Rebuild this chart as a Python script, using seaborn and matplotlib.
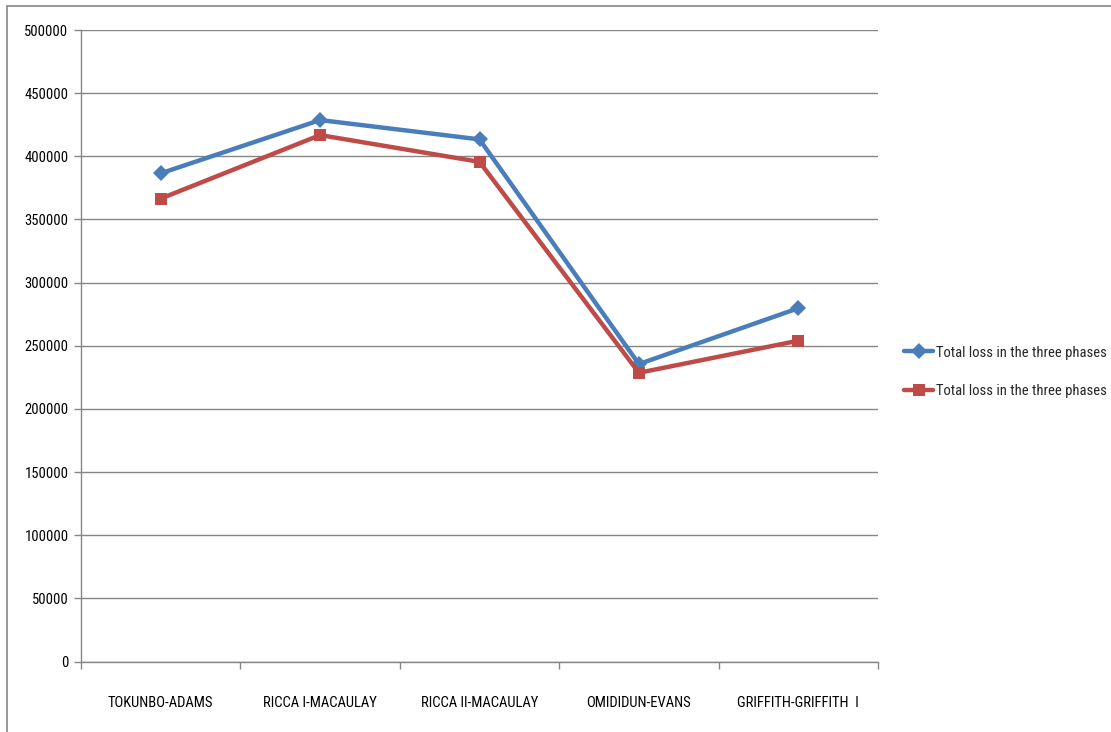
import matplotlib
matplotlib.use("Agg")
import matplotlib.pyplot as plt
import matplotlib.patches as mpatches
from matplotlib.ticker import FixedLocator, NullFormatter
import seaborn as sns
import pandas as pd
from matplotlib import font_manager

categories = ["TOKUNBO-ADAMS", "RICCA I-MACAULAY", "RICCA II-MACAULAY", "OMIDIDUN-EVANS", "GRIFFITH-GRIFFITH  I"]
series1_values = [386500, 428700, 413400, 235500, 279700]
series2_values = [366500, 416800, 395600, 228600, 254000]
series_labels = ["Total loss in the three phases", "Total loss in the three phases"]
y_ticks = [0, 50000, 100000, 150000, 200000, 250000, 300000, 350000, 400000, 450000, 500000]

sns.set_theme(style="white")
entries = font_manager.fontManager.ttflist
names = {f.name for f in entries}
stretch = "normal"
fsize = 10.5
fam = None
for cand in ["Liberation Sans Narrow", "Roboto Condensed", "Open Sans Condensed", "Noto Sans Condensed"]:
    if cand in names:
        fam = cand
        break
if fam is None:
    cond = [f for f in entries if f.name in ("DejaVu Sans", "Noto Sans", "Open Sans", "Roboto")
            and str(f.stretch) in ("condensed", "semi-condensed", "500", "375", "extra-condensed")
            and f.style == "normal"]
    if cond:
        fam = cond[0].name
        stretch = "condensed"
        fsize = 10.5
    else:
        fam = "Liberation Sans"
        fsize = 9.5
plt.rcParams['font.family'] = [fam, 'DejaVu Sans']
plt.rcParams['font.stretch'] = stretch

fig = plt.figure(figsize=(11.11, 7.32), dpi=100)
ax = fig.add_axes([81/1111, 1 - 661.5/732, (878-81)/1111, (661.5-30)/732])

df1 = pd.DataFrame({"cat": categories, "val": series1_values})
df2 = pd.DataFrame({"cat": categories, "val": series2_values})

sns.lineplot(data=df1, x="cat", y="val", ax=ax, color="#4A7EBB", lw=3.2,
             marker="D", markersize=8.5, markeredgewidth=0, label=series_labels[0], sort=False)
sns.lineplot(data=df2, x="cat", y="val", ax=ax, color="#BE4B48", lw=3.2,
             marker="s", markersize=9, markeredgewidth=0, label=series_labels[1], sort=False)

gray = "#868686"
ax.set_ylim(0, 500000)
ax.set_xlim(-0.5, len(categories) - 0.5)
ax.set_yticks(y_ticks)
ax.set_yticklabels([str(v) for v in y_ticks])
ax.yaxis.grid(True, color=gray, lw=1)
ax.xaxis.grid(False)
ax.set_axisbelow(True)
for s in ["top", "right"]:
    ax.spines[s].set_visible(False)
for s in ["left", "bottom"]:
    ax.spines[s].set_color(gray)
    ax.spines[s].set_linewidth(1)

ax.set_xticks(range(len(categories)))
ax.set_xticklabels(categories)
ax.xaxis.set_minor_locator(FixedLocator([i - 0.5 for i in range(len(categories) + 1)]))
ax.xaxis.set_minor_formatter(NullFormatter())
ax.tick_params(axis="x", which="major", length=0, pad=25, labelsize=fsize, colors="black")
ax.tick_params(axis="x", which="minor", length=5, width=1, color=gray, bottom=True)
ax.tick_params(axis="y", which="major", length=5, width=1, color=gray, left=True, pad=4,
               labelsize=fsize, labelcolor="black")
ax.set_xlabel("")
ax.set_ylabel("")

leg = ax.legend(loc="center left", bbox_to_anchor=(897/1111, 1 - 372/732),
                bbox_transform=fig.transFigure, frameon=False, fontsize=fsize,
                handlelength=2.0, handletextpad=0.2, labelspacing=1.7, borderpad=0)

fig.add_artist(mpatches.Rectangle((7/1111, -0.05), 1.2, 0.05 + (732 - 6) / 732,
                                  transform=fig.transFigure, fill=False,
                                  edgecolor=gray, lw=1.2, clip_on=False))

fig.savefig("out.png", dpi=100)
